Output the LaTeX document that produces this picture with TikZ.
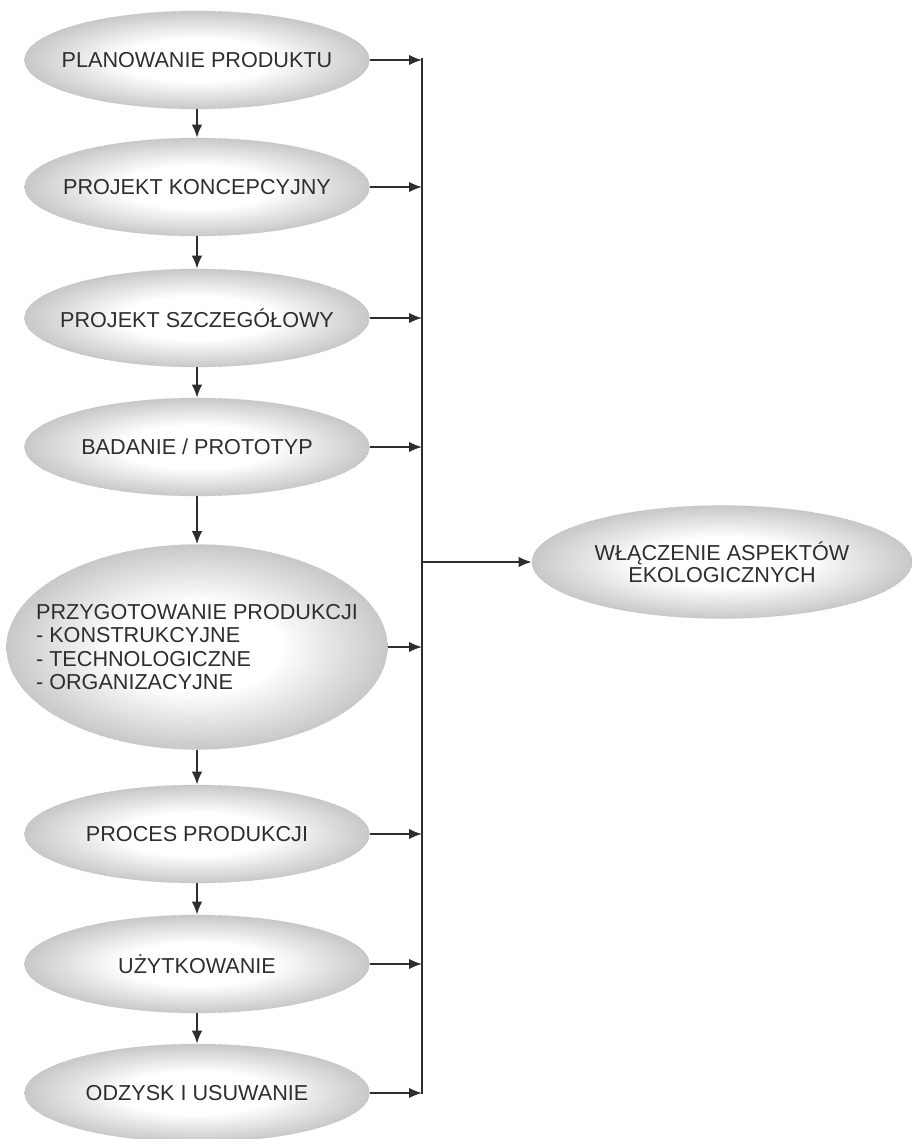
\documentclass[tikz,border=0pt]{standalone}
\usepackage{fontspec}
\setmainfont{Liberation Sans}
\usetikzlibrary{shapes.geometric, arrows.meta}
\definecolor{linegray}{HTML}{2E2E2E}
\definecolor{rimgray}{HTML}{C8C8C8}
\pgfdeclareradialshading{stageshade}{\pgfpoint{0bp}{0bp}}{color(0bp)=(white); color(11bp)=(white); color(25bp)=(rimgray); color(50bp)=(rimgray)}
\tikzset{
->,
>={Latex[length=2.6mm, width=2.1mm]},
x=0.02cm, y=-0.02cm,
every path/.style={line width=0.95pt},
stage/.style={ellipse, shading=stageshade, draw=gray!55, densely dotted, line width=0.4pt, minimum width=6.9cm, minimum height=1.96cm, inner xsep=-2cm, inner ysep=0pt, text=linegray, font=\fontsize{12.3}{13.4}\selectfont}, % one phase of the product life
}

\begin{document}
\begin{tikzpicture}[color=linegray]
\useasboundingbox (0,0) rectangle (912,1139);
\node[stage] at (197,60) (plan) {PLANOWANIE PRODUKTU};
\node[stage] at (197,187) (concept) {PROJEKT KONCEPCYJNY};
\node[stage] at (197,318) (detail) {PROJEKT SZCZEGÓŁOWY};
\node[stage] at (197,447) (proto) {BADANIE / PROTOTYP};
\node[stage, minimum width=7.62cm, minimum height=4.1cm, align=left] at (197,647) (prep) {PRZYGOTOWANIE PRODUKCJI\\- KONSTRUKCYJNE\\- TECHNOLOGICZNE\\- ORGANIZACYJNE};
\node[stage] at (197,834) (proc) {PROCES PRODUKCJI};
\node[stage] at (197,964) (use) {UŻYTKOWANIE};
\node[stage] at (197,1093) (recov) {ODZYSK I USUWANIE};
\node[stage, minimum width=7.6cm, minimum height=2.26cm, align=center, font=\fontsize{12.3}{12.5}\selectfont] at (722,562) (eco) {WŁĄCZENIE ASPEKTÓW\\EKOLOGICZNYCH};

% collecting line on the right
\coordinate (busTop) at (422,58);
\coordinate (busEnd) at (422,1094);
\coordinate (busTap) at (422,562);
\draw[-] (busTop) -- (busEnd);

\draw (plan) -- (concept);
\draw (concept) -- (detail);
\draw (detail) -- (proto);
\draw (proto) -- (prep);
\draw (prep) -- (proc);
\draw (proc) -- (use);
\draw (use) -- (recov);

\foreach \n in {plan, concept, detail, proto, prep, proc, use, recov}
  \draw (\n.east) -- (\n.east -| busTop);
\draw (busTap) -- (eco);

\end{tikzpicture}
\end{document}
